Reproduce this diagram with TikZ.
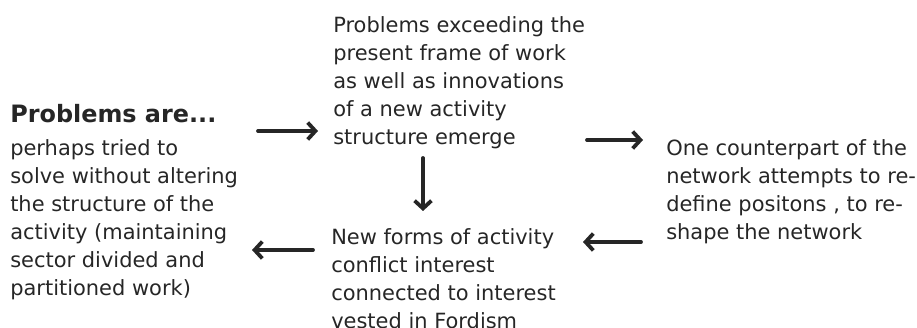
\documentclass[tikz,border=0pt]{standalone}
\usepackage{fontspec}
\setmainfont{DejaVu Sans}
\usepackage{tikz}
\usetikzlibrary{arrows.meta,positioning}
\usepackage{xcolor}
\definecolor{ink}{HTML}{262626}

\begin{document}
\begin{tikzpicture}[x=0.025cm, y=-0.025cm,
    txt/.style={anchor=north west, inner sep=0pt, align=left, text=ink,
      font=\fontsize{14.9}{19.9}\selectfont},
    ttl/.style={txt, font=\fontsize{17}{21}\selectfont\bfseries},
    arr/.style={-{Straight Barb[length=5.5pt, width=12pt]}, line width=2.7pt,
      draw=ink, line cap=round, line join=round}]
  \useasboundingbox (0,0) rectangle (917,328);
  % === Left: Problems are... ===
  \node[ttl] (probs) at (10,104) {Problems are...};
  \node[txt] (tried) at (10,139) {perhaps tried to\\solve without altering\\the structure of the\\activity (maintaining\\sector divided and\\partitioned work)};
  % === Top: emerging problems ===
  \node[txt] (emerg) at (333,16) {Problems exceeding the\\present frame of work\\as well as innovations\\of a new activity\\structure emerge};
  % === Right: network reshaped ===
  \node[txt] (reshape) at (666,139) {One counterpart of the\\network attempts to re-\\define positons , to re-\\shape the network};
  % === Bottom: conflict with Fordism ===
  \node[txt] (fordism) at (331,228) {New forms of activity\\conflict interest\\connected to interest\\vested in Fordism};
  % === Arrows (cycle) ===
  \draw[arr] ([shift={(248,27)}]probs.north west) -- ([shift={(-15,115)}]emerg.north west);
  \draw[arr] ([shift={(254,124)}]emerg.north west) -- ([shift={(-23,1)}]reshape.north west);
  \draw[arr] ([shift={(90,142)}]emerg.north west) -- ([shift={(92,-17)}]fordism.north west);
  \draw[arr] ([shift={(-25,103)}]reshape.north west) -- ([shift={(252,14)}]fordism.north west);
  \draw[arr] ([shift={(-18,22)}]fordism.north west) -- ([shift={(242,111)}]tried.north west);
\end{tikzpicture}
\end{document}
